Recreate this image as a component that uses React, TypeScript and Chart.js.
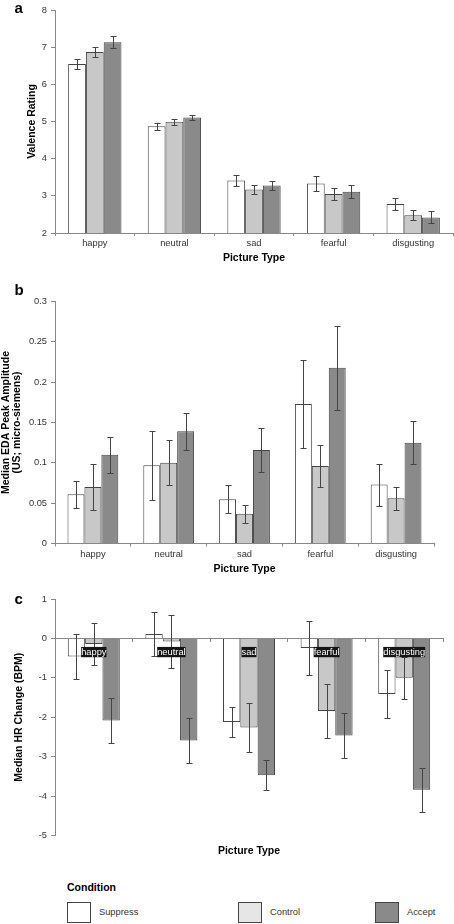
import React, { useEffect, useRef } from 'react';
import { Chart, registerables } from 'chart.js';

Chart.register(...registerables);

const FONT = "'Liberation Sans', Arial, sans-serif";
Chart.defaults.font.family = FONT;

const CATEGORIES = ['happy', 'neutral', 'sad', 'fearful', 'disgusting'];
const CONDITIONS = ['Suppress', 'Control', 'Accept'];
const COND_COLORS = ['#ffffff', '#c8c8c8', '#8a8a8a'];
const LEGEND_COLORS = ['#ffffff', '#e6e6e6', '#8a8a8a'];

// Panel a: valence rating
const VALENCE_SUPPRESS = [6.55, 4.87, 3.41, 3.33, 2.78];
const VALENCE_CONTROL = [6.87, 4.99, 3.17, 3.05, 2.48];
const VALENCE_ACCEPT = [7.13, 5.11, 3.28, 3.11, 2.42];
const VALENCE_SUPPRESS_ERR = [0.13, 0.09, 0.14, 0.21, 0.16];
const VALENCE_CONTROL_ERR = [0.14, 0.08, 0.13, 0.17, 0.13];
const VALENCE_ACCEPT_ERR = [0.16, 0.06, 0.13, 0.18, 0.16];

// Panel b: EDA peak amplitude
const EDA_SUPPRESS = [0.061, 0.097, 0.055, 0.173, 0.073];
const EDA_CONTROL = [0.07, 0.1, 0.037, 0.096, 0.056];
const EDA_ACCEPT = [0.11, 0.139, 0.116, 0.218, 0.125];
const EDA_SUPPRESS_ERR = [0.017, 0.043, 0.017, 0.054, 0.026];
const EDA_CONTROL_ERR = [0.029, 0.028, 0.011, 0.026, 0.0145];
const EDA_ACCEPT_ERR = [0.022, 0.0225, 0.027, 0.052, 0.0265];

// Panel c: HR change
const HR_SUPPRESS = [-0.46, 0.11, -2.12, -0.24, -1.41];
const HR_CONTROL = [-0.14, -0.08, -2.26, -1.84, -1.0];
const HR_ACCEPT = [-2.08, -2.59, -3.47, -2.46, -3.84];
const HR_SUPPRESS_ERR = [0.56, 0.565, 0.37, 0.69, 0.6];
const HR_CONTROL_ERR = [0.53, 0.665, 0.62, 0.68, 0.54];
const HR_ACCEPT_ERR = [0.58, 0.56, 0.38, 0.58, 0.565];

const errorBarPlugin = {
  id: 'errorBars',
  afterDatasetsDraw(chart: any) {
    const ctx = chart.ctx;
    const yScale = chart.scales.y;
    chart.data.datasets.forEach((ds: any, i: number) => {
      const errs = ds.errors;
      if (!errs) return;
      const meta = chart.getDatasetMeta(i);
      meta.data.forEach((bar: any, j: number) => {
        const v = ds.data[j];
        const e = errs[j];
        const x = Math.round(bar.x) + 0.5;
        const yT = Math.round(yScale.getPixelForValue(v + e)) + 0.5;
        const yB = Math.round(yScale.getPixelForValue(v - e)) + 0.5;
        ctx.save();
        ctx.strokeStyle = '#444';
        ctx.lineWidth = 1;
        ctx.beginPath();
        ctx.moveTo(x, yT);
        ctx.lineTo(x, yB);
        ctx.moveTo(x - 3, yT);
        ctx.lineTo(x + 3, yT);
        ctx.moveTo(x - 3, yB);
        ctx.lineTo(x + 3, yB);
        ctx.stroke();
        ctx.restore();
      });
    });
  },
};

function makeDatasets(series: number[][], errors: number[][]) {
  return series.map((data, i) => ({
    label: CONDITIONS[i],
    data,
    errors: errors[i],
    backgroundColor: COND_COLORS[i],
    borderColor: '#444',
    borderWidth: 1,
    barPercentage: 1,
    categoryPercentage: 0.67,
    xAxisID: 'x',
    yAxisID: 'y',
  }));
}

const tickFont = { size: 9.3 };
const titleFont = { size: 10.5, weight: 'bold' as const };

function yAxis(min: number, max: number, step: number, text: any, width: number, titleOpts: any = {}, fmt?: (v: number) => string) {
  return {
    min,
    max,
    ticks: {
      stepSize: step,
      color: '#333',
      font: tickFont,
      padding: 4,
      callback: fmt ? (v: any) => fmt(Number(v)) : undefined,
    },
    grid: { drawOnChartArea: false, drawTicks: true, tickLength: 4, color: '#888' },
    border: { color: '#888' },
    title: {
      display: true,
      text,
      color: '#000',
      font: titleOpts.font || titleFont,
      padding: titleOpts.padding || { top: 4, bottom: 0 },
    },
    afterFit: (s: any) => {
      s.width = width;
    },
  };
}

function xAxisBottom(height: number) {
  return {
    grid: { drawOnChartArea: false, tickLength: 3, color: '#888', offset: true },
    border: { color: '#888' },
    ticks: { color: '#333', font: tickFont, padding: 2 },
    title: {
      display: true,
      text: 'Picture Type',
      color: '#000',
      font: titleFont,
      padding: { top: 0, bottom: 6 },
    },
    afterFit: (s: any) => {
      s.height = height;
    },
  };
}

const commonPlugins = { legend: { display: false }, tooltip: { enabled: false } };

function configA() {
  return {
    type: 'bar',
    data: {
      labels: CATEGORIES,
      datasets: makeDatasets(
        [VALENCE_SUPPRESS, VALENCE_CONTROL, VALENCE_ACCEPT],
        [VALENCE_SUPPRESS_ERR, VALENCE_CONTROL_ERR, VALENCE_ACCEPT_ERR]
      ),
    },
    options: {
      animation: false,
      responsive: false,
      layout: { padding: { top: 10, left: 22, right: 1, bottom: 0 } },
      plugins: commonPlugins,
      scales: {
        x: xAxisBottom(37),
        y: yAxis(2, 8, 1, 'Valence Rating', 33),
      },
    },
    plugins: [errorBarPlugin],
  };
}

function configB() {
  return {
    type: 'bar',
    data: {
      labels: CATEGORIES,
      datasets: makeDatasets(
        [EDA_SUPPRESS, EDA_CONTROL, EDA_ACCEPT],
        [EDA_SUPPRESS_ERR, EDA_CONTROL_ERR, EDA_ACCEPT_ERR]
      ),
    },
    options: {
      animation: false,
      responsive: false,
      layout: { padding: { top: 21.5, left: 0, right: 20, bottom: 0 } },
      plugins: commonPlugins,
      scales: {
        x: xAxisBottom(37.5),
        y: yAxis(
          0,
          0.3,
          0.05,
          ['Median EDA Peak Amplitude', '(US; micro-siemens)'],
          55,
          { font: { size: 10.5, weight: 'bold', lineHeight: 1.0 }, padding: { top: 1.25, bottom: 0 } },
          (v) => String(Number(v.toFixed(2)))
        ),
      },
    },
    plugins: [errorBarPlugin],
  };
}

function configC() {
  return {
    type: 'bar',
    data: {
      labels: CATEGORIES,
      datasets: makeDatasets(
        [HR_SUPPRESS, HR_CONTROL, HR_ACCEPT],
        [HR_SUPPRESS_ERR, HR_CONTROL_ERR, HR_ACCEPT_ERR]
      ),
    },
    options: {
      animation: false,
      responsive: false,
      layout: { padding: { top: 14, left: 9, right: 11, bottom: 0 } },
      plugins: commonPlugins,
      scales: {
        x: {
          position: { y: 0 },
          grid: { drawOnChartArea: false, tickLength: 3, color: '#888', offset: true },
          border: { color: '#888' },
          ticks: {
            color: '#ffffff',
            font: { size: 9.3, lineHeight: 1.0 },
            padding: 6,
            showLabelBackdrop: true,
            backdropColor: '#151515',
            backdropPadding: { top: 0.5, bottom: 0.5, left: 0, right: 0 },
            z: 1,
          },
        },
        xt: {
          type: 'category',
          position: 'bottom',
          grid: { display: false },
          border: { display: false },
          ticks: { display: false },
          title: {
            display: true,
            text: 'Picture Type',
            color: '#000',
            font: titleFont,
            padding: { top: 0, bottom: 8 },
          },
          afterFit: (s: any) => {
            s.height = 29.5;
          },
        },
        y: yAxis(-5, 1, 1, 'Median HR Change (BPM)', 46),
      },
    },
    plugins: [errorBarPlugin],
  };
}

function Panel({ top, height, config }: { top: number; height: number; config: () => any }) {
  const ref = useRef<HTMLCanvasElement | null>(null);
  useEffect(() => {
    if (!ref.current) return;
    const chart = new Chart(ref.current, config());
    return () => chart.destroy();
  }, []);
  return (
    <div style={{ position: 'absolute', left: 0, top, width: 454, height }}>
      <canvas ref={ref} width={454} height={height} style={{ width: 454, height, display: 'block' }} />
    </div>
  );
}

const letterStyle: React.CSSProperties = {
  position: 'absolute',
  left: 14.5,
  fontFamily: FONT,
  fontWeight: 'bold',
  fontSize: 15,
  lineHeight: '15px',
  color: '#000',
};

export default function App() {
  const legendX = [67, 238, 375];
  return (
    <div
      style={{
        position: 'absolute',
        left: 0,
        top: 0,
        width: 454,
        height: 924,
        background: '#fff',
        overflow: 'hidden',
        fontFamily: FONT,
      }}
    >
      <Panel top={0} height={270} config={configA} />
      <Panel top={280} height={301} config={configB} />
      <Panel top={585} height={280} config={configC} />
      <div style={{ ...letterStyle, top: 0 }}>a</div>
      <div style={{ ...letterStyle, top: 282.3 }}>b</div>
      <div style={{ ...letterStyle, top: 590.6 }}>c</div>
      <div
        style={{
          position: 'absolute',
          left: 67,
          top: 881.8,
          fontSize: 10.5,
          lineHeight: '10.5px',
          fontWeight: 'bold',
          color: '#000',
        }}
      >
        Condition
      </div>
      {CONDITIONS.map((c, i) => (
        <React.Fragment key={c}>
          <div
            style={{
              position: 'absolute',
              left: legendX[i],
              top: 902,
              width: 24,
              height: 21,
              boxSizing: 'border-box',
              border: '1px solid #444',
              background: LEGEND_COLORS[i],
            }}
          />
          <div
            style={{
              position: 'absolute',
              left: legendX[i] + 32,
              top: 906,
              fontSize: 9.3,
              lineHeight: '12px',
              color: '#333',
            }}
          >
            {c}
          </div>
        </React.Fragment>
      ))}
    </div>
  );
}
